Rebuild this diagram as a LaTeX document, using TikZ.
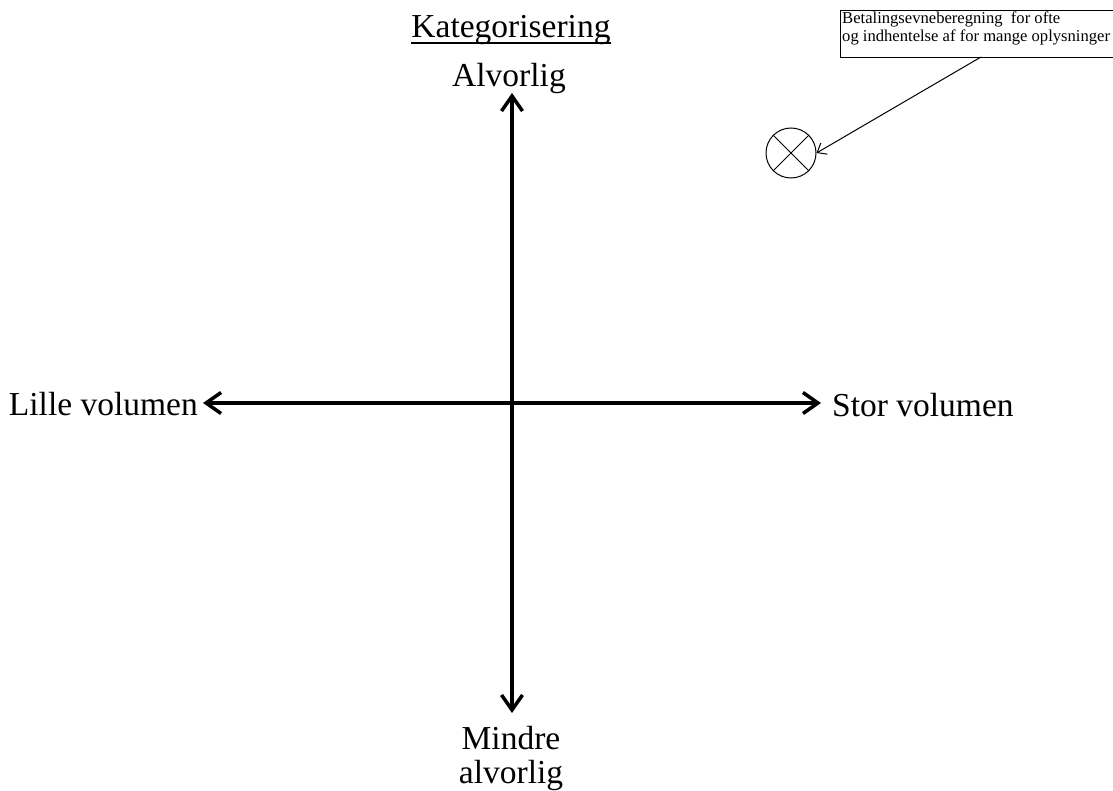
\documentclass[tikz,border=0pt]{standalone}
\usepackage{fontspec}
\setmainfont{Liberation Serif}
\usetikzlibrary{arrows.meta}
\begin{document}
\begin{tikzpicture}[x=1pt,y=-1pt,
  bigtip/.tip={Straight Barb[length=15pt,width=21pt,line width=3.5pt]},
  axis/.style={line width=3.5pt,bigtip-bigtip},
  lbl/.style={font=\fontsize{33.5}{38}\selectfont,inner sep=0pt},
  note/.style={draw,line width=1pt,minimum width=280pt,minimum height=47pt,inner sep=0pt},
  notetext/.style={font=\fontsize{16.6}{17.5}\selectfont,align=left,inner sep=0pt},
  thin/.style={line width=1pt,-{Straight Barb[length=8pt,width=13pt,line width=1pt]}}]
\useasboundingbox (0,0) rectangle (1113,791);
\node[lbl,anchor=base] (kat) at (511,38) {Kategorisering};
\draw[line width=1.6pt] ([yshift=-5pt]kat.base west) -- ([yshift=-5pt]kat.base east);
\node[lbl,anchor=base] (top) at (509,87) {Alvorlig};
\node[lbl,anchor=base east] (left) at (198,415) {Lille volumen};
\node[lbl,anchor=base west] (right) at (832,416) {Stor volumen};
\node[lbl,anchor=base] (bot1) at (511,749) {Mindre};
\node[lbl,anchor=base] (bot2) at (511,783) {alvorlig};
\coordinate (ct) at (512,93);
\coordinate (cb) at (512,713);
\coordinate (cl) at (203,403);
\coordinate (cr) at (821,403);
\draw[axis] (cb) -- (ct);
\draw[axis] (cl) -- (cr);
\node[note,anchor=north west] (box) at (840,10) {};
\node[notetext,anchor=north west] (boxtext) at (842,12) {Betalingsevneberegning\ \ for ofte\\og indhentelse af for mange oplysninger};
\coordinate (bstart) at (981,57);
\node[draw,circle,line width=1pt,minimum size=50pt,inner sep=0pt] (circ) at (791,153) {};
\draw[line width=1pt] (circ.north west) -- (circ.south east);
\draw[line width=1pt] (circ.north east) -- (circ.south west);
\draw[thin] (bstart) -- (circ.east);
\end{tikzpicture}
\end{document}
